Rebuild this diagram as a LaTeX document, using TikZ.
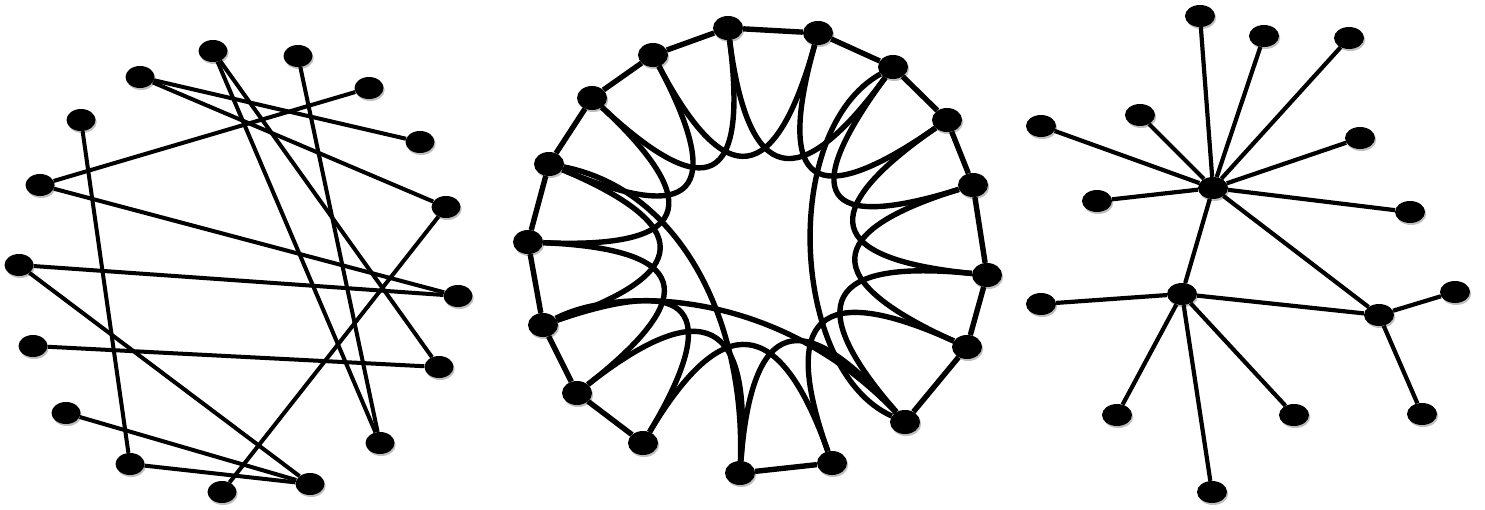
\documentclass[tikz,border=0pt]{standalone}
\usetikzlibrary{shapes.geometric,calc,shadows}
\begin{document}
\begin{tikzpicture}[x=1pt,y=-1pt,
  dot/.style={ellipse,fill=black,minimum width=29pt,minimum height=22pt,inner sep=0pt,
    drop shadow={shadow xshift=1.2pt,shadow yshift=-2pt,opacity=0.25,fill=black}},
  ledge/.style={line width=4pt},
  medge/.style={line width=5.4pt},
  redge/.style={line width=4.2pt}]
\useasboundingbox (0,0) rectangle (1485,509);
% ---------- left: random graph ----------
\foreach \n/\x/\y in {1/213/51,2/298/56,3/140/77,4/369/88,5/81/120,6/420/142,7/40/185,
  8/446/207,9/19/265,10/458/296,11/33/346,12/439/367,13/66/413,14/380/443,15/130/464,
  16/310/484,17/222/492}
  \node[dot] (a\n) at (\x,\y) {};
\foreach \p/\q in {3/6,3/8,1/14,1/12,2/14,4/7,7/10,5/15,9/10,9/16,11/12,13/16,15/16,8/17}
  \draw[ledge] (a\p) -- (a\q);
% ---------- middle: small world ----------
\coordinate (ctr) at (757,252);
\foreach \n/\x/\y in {0/728/28,1/818/33,2/893/67,3/947/120,4/973/185,5/987/275,6/967/347,
  7/905/422,8/832/463,9/740/473,10/643/443,11/577/393,12/543/325,13/528/242,14/549/164,
  15/592/98,16/653/55}
  \node[dot,minimum width=30pt,minimum height=24pt] (m\n) at (\x,\y) {};
\foreach \p/\q in {0/1,1/2,2/3,3/4,4/5,5/6,6/7,8/9,10/11,11/12,12/13,13/14,14/15,15/16,16/0}
  \draw[medge] (m\p) -- (m\q);
\foreach \p/\q in {0/2,1/3,2/4,3/5,4/6,5/7,6/8,7/9,8/10,9/11,10/12,11/13,12/14,13/15,14/16,15/0,16/1}
  \draw[medge] (m\p) .. controls ($(m\p)!0.7!(ctr)$) and ($(m\q)!0.7!(ctr)$) .. (m\q);
\draw[medge] (m2) .. controls (780,130) and (790,370) .. (m7);
\draw[medge] (m12) .. controls (620,285) and (780,290) .. (m7);
\draw[medge] (m14) .. controls (680,190) and (745,320) .. (m9);
% ---------- right: scale free ----------
\foreach \n/\x/\y in {1/1200/16,2/1264/36,3/1349/38,4/1140/115,5/1041/126,6/1360/138,
  7/1213/188,8/1097/201,9/1410/212,10/1182/294,11/1041/304,12/1455/292,13/1379/315,
  14/1117/415,15/1294/415,16/1422/414,17/1212/492}
  \node[dot,minimum width=30pt,minimum height=22pt] (b\n) at (\x,\y) {};
\foreach \p/\q in {7/1,7/2,7/3,7/4,7/5,7/6,7/8,7/9,7/10,7/13,10/11,10/13,10/14,10/15,10/17,13/12,13/16}
  \draw[redge] (b\p) -- (b\q);
\end{tikzpicture}
\end{document}
